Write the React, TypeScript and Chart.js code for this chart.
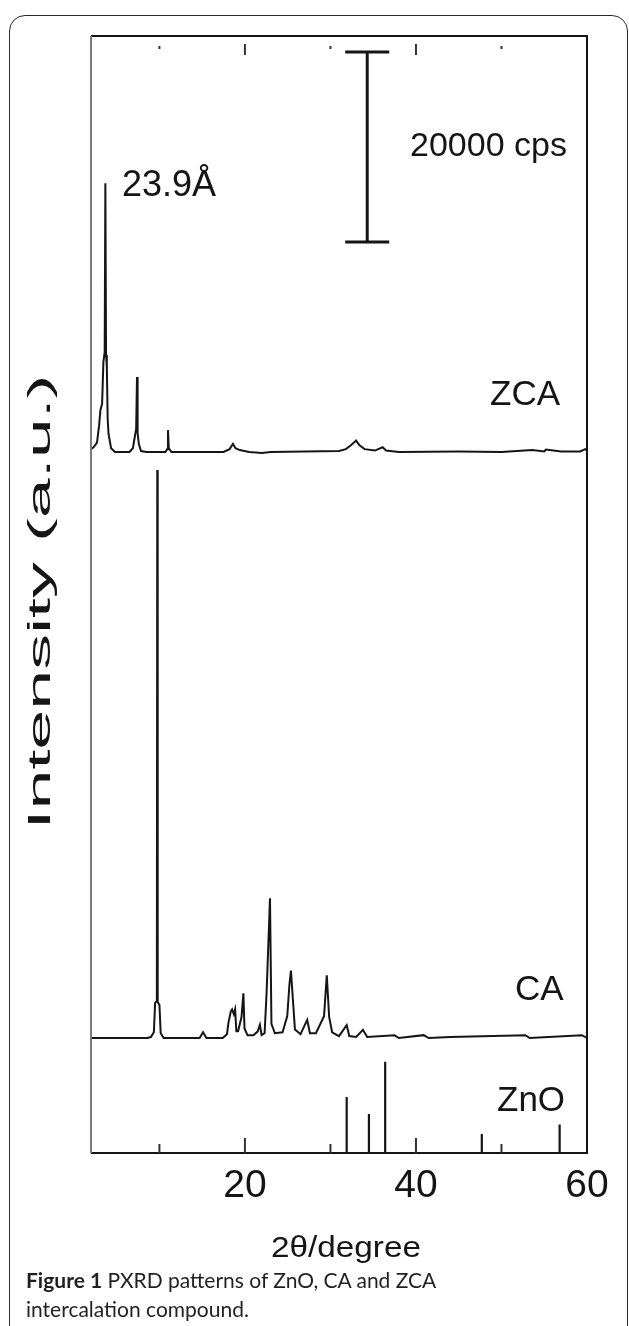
import React, { useEffect, useRef } from 'react';
import { Chart, registerables } from 'chart.js';
Chart.register(...registerables);

// ---------- data (2θ in degrees, intensity in cps) ----------
const ZCA_X = [2.0, 2.3, 2.7, 2.95, 3.1, 3.3, 3.45, 3.6, 3.68, 3.76, 3.85, 3.95, 4.05, 4.35, 4.8, 6.5, 6.9, 7.1, 7.28, 7.38, 7.45, 7.6, 7.85, 8.5, 10.7, 10.9, 11.0, 11.1, 11.4, 17.5, 18.2, 18.6, 18.9, 19.4, 20.5, 22.0, 23.0, 27.0, 31.0, 31.8, 32.4, 33.0, 33.4, 34.0, 35.2, 36.1, 36.5, 38.0, 45.0, 50.0, 53.6, 55.0, 55.2, 56.5, 57.0, 59.2, 59.8, 60.0];
const ZCA_I = [300, 500, 1000, 2800, 4400, 5100, 9500, 10500, 28300, 10200, 9000, 3500, 1900, 400, 0, 0, 400, 1500, 2400, 7900, 2000, 800, 100, 0, 0, 300, 2300, 400, 0, 0, 300, 850, 400, 200, 0, -100, 0, 50, 100, 300, 700, 1200, 700, 300, 150, 500, 150, 0, 50, 0, 200, 50, 250, 100, 50, 50, 300, 150];

const CA_X = [2.0, 7.2, 8.6, 9.0, 9.35, 9.5, 9.7, 9.75, 9.8, 10.0, 10.15, 10.5, 14.7, 15.1, 15.5, 17.4, 17.9, 18.07, 18.35, 18.5, 18.7, 18.85, 19.0, 19.2, 19.6, 19.82, 19.95, 20.3, 21.0, 21.5, 21.75, 21.95, 22.3, 22.54, 22.93, 23.1, 23.5, 24.4, 24.95, 25.2, 25.38, 25.65, 25.85, 26.5, 27.28, 27.6, 28.3, 29.25, 29.57, 29.85, 30.2, 31.0, 31.9, 32.2, 33.0, 33.8, 34.3, 37.5, 38.0, 40.9, 41.5, 44.0, 52.8, 53.3, 59.4, 60.0];
const CA_I = [0, 0, 0, 100, 600, 3700, 3900, 59800, 3800, 3500, 500, 0, 0, 600, 0, 0, 400, 1600, 2800, 3000, 2500, 3000, 700, 700, 2200, 4700, 1000, 300, 300, 700, 1400, 300, 500, 4900, 14700, 1500, 500, 600, 2300, 5600, 7100, 3500, 900, 400, 1900, 500, 500, 2300, 6600, 2200, 600, 200, 1350, 200, 100, 850, 100, 300, 0, 300, 0, 100, 300, 0, 300, 0];

const ZNO_X = [31.9, 34.5, 36.4, 47.7, 56.8];
const ZNO_I = [5900, 4100, 9600, 2000, 3000];

const X_LABEL_TICKS = [20, 40, 60];
const X_MAJOR_TICKS = [20, 40];
const X_MINOR_TICKS = [10, 30, 50];
const SCALE_BAR_CPS = 20000;
const SCALE_BAR_X = 34.3;
const SCALE_BAR_TOP_CPS = 42100;
const X_MIN = 2;
const X_MAX = 60;

// ---------- layout ----------
const W = 629;
const H = 1326;
const AREA = { left: 91, right: 587, top: 36, bottom: 1153 };
const PX_PER_CPS = 190 / 20000;
const BASE_ZCA = 452;
const BASE_CA = 1038;
const BASE_ZNO = 1153;
const FONT = '"Liberation Sans", Arial, sans-serif';
const INK = '#151515';

function axisRange(basePx: number) {
  const min = -(AREA.bottom - basePx) / PX_PER_CPS;
  const max = min + (AREA.bottom - AREA.top) / PX_PER_CPS;
  return { min, max };
}

function pts(xs: number[], ys: number[]) {
  return xs.map((x, i) => ({ x, y: ys[i] }));
}

function sticks(xs: number[], ys: number[]) {
  const out: { x: number; y: number }[] = [{ x: X_MIN, y: 0 }];
  xs.forEach((x, i) => {
    out.push({ x, y: 0 }, { x, y: ys[i] }, { x, y: 0 });
  });
  out.push({ x: X_MAX, y: 0 });
  return out;
}

function text(ctx: CanvasRenderingContext2D, s: string, x: number, y: number, size: number, align: CanvasTextAlign = 'left', base: CanvasTextBaseline = 'alphabetic', bold = false) {
  ctx.save();
  ctx.font = `${bold ? 'bold ' : ''}${size}px ${FONT}`;
  ctx.fillStyle = INK;
  ctx.textAlign = align;
  ctx.textBaseline = base;
  ctx.fillText(s, x, y);
  ctx.restore();
}

const decor = {
  id: 'decor',
  afterDatasetsDraw(chart: any) {
    const ctx: CanvasRenderingContext2D = chart.ctx;
    const xs = chart.scales.x;
    const yz = chart.scales.yZCA;
    const { left, right, top, bottom } = chart.chartArea;
    ctx.save();
    // frame
    ctx.lineWidth = 2;
    ctx.strokeStyle = INK;
    ctx.beginPath();
    ctx.moveTo(left, top);
    ctx.lineTo(right, top);
    ctx.lineTo(right, bottom);
    ctx.lineTo(left, bottom);
    ctx.stroke();
    ctx.strokeStyle = '#7a7a7a';
    ctx.beginPath();
    ctx.moveTo(left, top);
    ctx.lineTo(left, bottom);
    ctx.stroke();
    // ticks
    ctx.strokeStyle = '#333';
    ctx.lineWidth = 2;
    X_MAJOR_TICKS.forEach((v) => {
      const px = xs.getPixelForValue(v);
      ctx.beginPath();
      ctx.moveTo(px, bottom);
      ctx.lineTo(px, bottom - 15);
      ctx.moveTo(px, top + 8);
      ctx.lineTo(px, top + 19);
      ctx.stroke();
    });
    X_MINOR_TICKS.forEach((v) => {
      const px = xs.getPixelForValue(v);
      ctx.beginPath();
      ctx.moveTo(px, bottom);
      ctx.lineTo(px, bottom - 9);
      ctx.moveTo(px, top + 10);
      ctx.lineTo(px, top + 13);
      ctx.stroke();
    });
    // scale bar
    const bx = xs.getPixelForValue(SCALE_BAR_X);
    const by1 = yz.getPixelForValue(SCALE_BAR_TOP_CPS);
    const by2 = yz.getPixelForValue(SCALE_BAR_TOP_CPS - SCALE_BAR_CPS);
    ctx.strokeStyle = INK;
    ctx.lineWidth = 3;
    ctx.beginPath();
    ctx.moveTo(bx, by1);
    ctx.lineTo(bx, by2);
    ctx.moveTo(bx - 22, by1);
    ctx.lineTo(bx + 22, by1);
    ctx.moveTo(bx - 22, by2);
    ctx.lineTo(bx + 22, by2);
    ctx.stroke();
    ctx.restore();

    text(ctx, '20000 cps', 410, (by1 + by2) / 2, 34, 'left', 'middle');
    text(ctx, '23.9Å', 122, 196, 36);
    text(ctx, 'ZCA', 490, 405, 35);
    text(ctx, 'CA', 515, 1000, 35);
    text(ctx, 'ZnO', 497, 1111, 35);

    X_LABEL_TICKS.forEach((v) => {
      text(ctx, String(v), xs.getPixelForValue(v), 1197, 39, 'center');
    });

    // x title (slightly wide lettering)
    ctx.save();
    ctx.font = `30px ${FONT}`;
    const tw = ctx.measureText('2θ/degree').width;
    ctx.translate(346, 1257);
    ctx.scale(150 / tw, 1);
    ctx.fillStyle = INK;
    ctx.textAlign = 'center';
    ctx.fillText('2θ/degree', 0, 0);
    ctx.restore();

    // y title
    ctx.save();
    ctx.font = `32px ${FONT}`;
    const yw = ctx.measureText('Intensity (a.u.)').width;
    ctx.translate(50, 602);
    ctx.rotate(-Math.PI / 2);
    ctx.scale(455 / yw, 1);
    ctx.fillStyle = INK;
    ctx.textAlign = 'center';
    ctx.textBaseline = 'alphabetic';
    ctx.fillText('Intensity (a.u.)', 0, 0);
    ctx.restore();
  },
};

export default function App() {
  const ref = useRef<HTMLCanvasElement>(null);
  useEffect(() => {
    if (!ref.current) return;
    const zca = axisRange(BASE_ZCA);
    const ca = axisRange(BASE_CA);
    const zno = axisRange(BASE_ZNO);
    const line = { showLine: true, pointRadius: 0, borderColor: '#151515', borderWidth: 2, tension: 0, clip: false as any };
    const chart = new Chart(ref.current, {
      type: 'scatter',
      data: {
        datasets: [
          { ...line, label: 'ZCA', data: pts(ZCA_X, ZCA_I), yAxisID: 'yZCA' },
          { ...line, label: 'CA', data: pts(CA_X, CA_I), yAxisID: 'yCA' },
          { ...line, label: 'ZnO', data: sticks(ZNO_X, ZNO_I), yAxisID: 'yZnO', borderWidth: 2.2 },
        ],
      },
      options: {
        responsive: false,
        animation: false,
        events: [],
        layout: { padding: { left: AREA.left, top: AREA.top, right: W - AREA.right, bottom: H - AREA.bottom } },
        plugins: { legend: { display: false }, tooltip: { enabled: false }, title: { display: false } },
        scales: {
          x: { type: 'linear', min: X_MIN, max: X_MAX, display: false },
          yZCA: { type: 'linear', position: 'left', min: zca.min, max: zca.max, display: false },
          yCA: { type: 'linear', position: 'left', min: ca.min, max: ca.max, display: false },
          yZnO: { type: 'linear', position: 'left', min: zno.min, max: zno.max, display: false },
        },
      },
      plugins: [decor],
    });
    return () => chart.destroy();
  }, []);

  return (
    <div style={{ position: 'absolute', left: 0, top: 0, width: W, height: H, overflow: 'hidden', background: '#fff' }}>
      <div style={{ position: 'absolute', left: 9, top: 15, width: 619, height: H + 40, border: '1.5px solid #2a2a2a', borderRadius: 16, boxSizing: 'border-box' }} />
      <canvas ref={ref} width={W} height={H} style={{ position: 'absolute', left: 0, top: 0, width: W, height: H }} />
      <div style={{ position: 'absolute', left: 26, top: 1265, width: 580, fontFamily: 'Lato, "Open Sans", sans-serif', fontSize: 21, lineHeight: '29px', color: '#231f20' }}>
        <b>Figure 1</b> PXRD patterns of ZnO, CA and ZCA
        <br />
        intercalation compound.
      </div>
    </div>
  );
}
